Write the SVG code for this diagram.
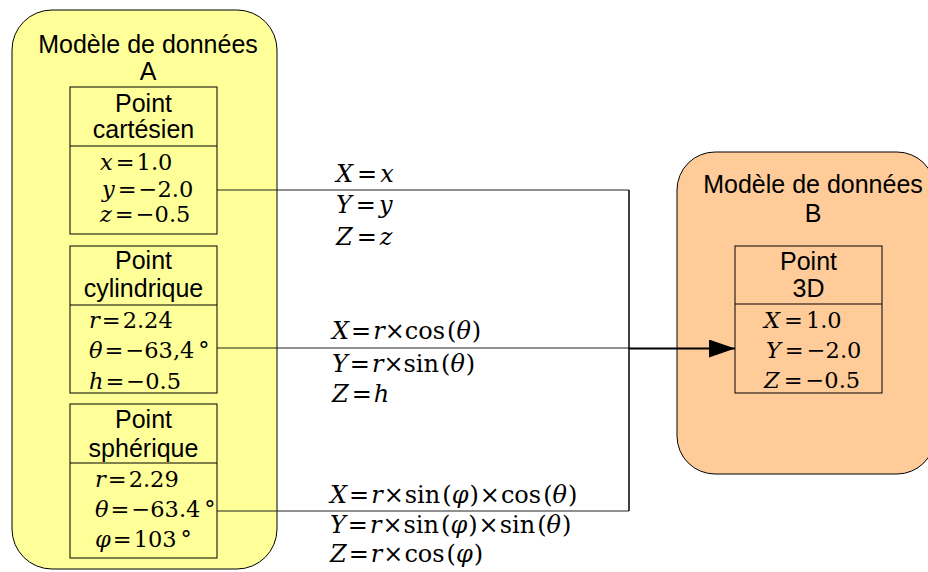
<svg xmlns="http://www.w3.org/2000/svg" width="928" height="572" viewBox="0 0 928 572">
<defs>
<style>
.ca{fill:#ffff99;stroke:#000;stroke-width:1}
.cb{fill:#ffcc99;stroke:#000;stroke-width:1}
.box{stroke:#000;stroke-width:1}
.t{font-family:"Liberation Sans",Arial,sans-serif;font-size:25px;fill:#000;text-anchor:middle}
.m{font-family:"DejaVu Serif",serif;font-size:22.5px;fill:#000}
.f{font-family:"DejaVu Serif",serif;font-size:24px;fill:#000}
.i{font-style:italic}
.ln{fill:none;stroke:#222;stroke-width:1}
</style>
<marker id="arr" markerWidth="26" markerHeight="18" refX="26" refY="9" orient="auto" markerUnits="userSpaceOnUse">
<path d="M0,0 L26,9 L0,18 Z" fill="#000"/>
</marker>
</defs>
<g id="modele-a">
<rect class="ca" x="12" y="10" width="265" height="559" rx="40" ry="40"/>
<text class="t" x="148" y="53">Modèle de données</text>
<text class="t" x="148" y="80">A</text>
</g>
<g id="point-cartesien">
<rect class="box" fill="#ffff99" x="70" y="87" width="147" height="147"/>
<line class="box" x1="70" y1="146" x2="217" y2="146"/>
<text class="t" x="143.5" y="112">Point</text>
<text class="t" x="143.5" y="138">cartésien</text>
<text class="m" x="100" y="170"><tspan class="i">x</tspan><tspan dx="3">=</tspan><tspan dx="2">1.0</tspan></text>
<text class="m" x="102" y="197"><tspan class="i">y</tspan><tspan dx="3">=</tspan><tspan dx="2">−2.0</tspan></text>
<text class="m" x="100" y="222"><tspan class="i">z</tspan><tspan dx="3">=</tspan><tspan dx="2">−0.5</tspan></text>
</g>
<g id="point-cylindrique">
<rect class="box" fill="#ffff99" x="70" y="246" width="147" height="147"/>
<line class="box" x1="70" y1="305" x2="217" y2="305"/>
<text class="t" x="143.5" y="269">Point</text>
<text class="t" x="143.5" y="297">cylindrique</text>
<text class="m" x="89" y="328"><tspan class="i">r</tspan><tspan dx="2">=</tspan><tspan dx="2">2.24</tspan></text>
<text class="m" x="89" y="358"><tspan class="i">θ</tspan><tspan dx="2">=</tspan><tspan dx="2">−63,4</tspan><tspan dx="4">°</tspan></text>
<text class="m" x="89" y="389"><tspan class="i">h</tspan><tspan dx="2">=</tspan><tspan dx="2">−0.5</tspan></text>
</g>
<g id="point-spherique">
<rect class="box" fill="#ffff99" x="70" y="404" width="147" height="154"/>
<line class="box" x1="70" y1="463" x2="217" y2="463"/>
<text class="t" x="143.5" y="428">Point</text>
<text class="t" x="143.5" y="457">sphérique</text>
<text class="m" x="95" y="487"><tspan class="i">r</tspan><tspan dx="2">=</tspan><tspan dx="2">2.29</tspan></text>
<text class="m" x="95" y="517"><tspan class="i">θ</tspan><tspan dx="2">=</tspan><tspan dx="2">−63.4</tspan><tspan dx="4">°</tspan></text>
<text class="m" x="95" y="547"><tspan class="i">φ</tspan><tspan dx="2">=</tspan><tspan dx="2">103</tspan><tspan dx="4">°</tspan></text>
</g>
<g id="modele-b">
<rect class="cb" x="677" y="152" width="258" height="322" rx="38" ry="38"/>
<text class="t" x="813" y="193">Modèle de données</text>
<text class="t" x="813" y="222">B</text>
</g>
<g id="point-3d">
<rect class="box" fill="#ffcc99" x="735" y="246" width="147" height="147"/>
<line class="box" x1="735" y1="304" x2="882" y2="304"/>
<text class="t" x="808.5" y="270">Point</text>
<text class="t" x="808.5" y="297">3D</text>
<text class="m" x="764" y="328"><tspan class="i">X</tspan><tspan dx="4">=</tspan><tspan dx="3">1.0</tspan></text>
<text class="m" x="766" y="358"><tspan class="i">Y</tspan><tspan dx="4">=</tspan><tspan dx="3">−2.0</tspan></text>
<text class="m" x="764" y="388"><tspan class="i">Z</tspan><tspan dx="4">=</tspan><tspan dx="3">−0.5</tspan></text>
</g>
<g id="connectors">
<path class="ln" d="M217,190 H629"/>
<path class="ln" d="M217,348 H629"/>
<path class="ln" d="M217,511 H629"/>
<path d="M629,190 V511" fill="none" stroke="#000" stroke-width="1.5"/>
<path d="M629,348.5 H735" fill="none" stroke="#000" stroke-width="2" marker-end="url(#arr)"/>
</g>
<g id="formules">
<text class="f" x="336" y="182"><tspan class="i">X</tspan><tspan dx="4">=</tspan><tspan class="i" dx="3">x</tspan></text>
<text class="f" x="336" y="213"><tspan class="i">Y</tspan><tspan dx="4">=</tspan><tspan class="i" dx="3">y</tspan></text>
<text class="f" x="336" y="245"><tspan class="i">Z</tspan><tspan dx="4">=</tspan><tspan class="i" dx="3">z</tspan></text>
<text class="f" x="332" y="339"><tspan class="i">X</tspan><tspan dx="2">=</tspan><tspan class="i" dx="2">r</tspan>×cos<tspan dx="2">(</tspan><tspan class="i">θ</tspan><tspan dx="1">)</tspan></text>
<text class="f" x="332" y="372"><tspan class="i">Y</tspan><tspan dx="2">=</tspan><tspan class="i" dx="2">r</tspan>×sin<tspan dx="2">(</tspan><tspan class="i">θ</tspan><tspan dx="1">)</tspan></text>
<text class="f" x="332" y="402"><tspan class="i">Z</tspan><tspan dx="3">=</tspan><tspan class="i" dx="2">h</tspan></text>
<text class="f" x="330" y="503"><tspan class="i">X</tspan><tspan dx="2">=</tspan><tspan class="i" dx="2">r</tspan><tspan dx="1">×</tspan><tspan dx="1">sin</tspan><tspan dx="2">(</tspan><tspan class="i">φ</tspan><tspan dx="1">)</tspan><tspan dx="1">×</tspan><tspan dx="1">cos</tspan><tspan dx="2">(</tspan><tspan class="i">θ</tspan><tspan dx="1">)</tspan></text>
<text class="f" x="330" y="533"><tspan class="i">Y</tspan><tspan dx="2">=</tspan><tspan class="i" dx="2">r</tspan><tspan dx="1">×</tspan><tspan dx="1">sin</tspan><tspan dx="2">(</tspan><tspan class="i">φ</tspan><tspan dx="1">)</tspan><tspan dx="1">×</tspan><tspan dx="1">sin</tspan><tspan dx="2">(</tspan><tspan class="i">θ</tspan><tspan dx="1">)</tspan></text>
<text class="f" x="330" y="562"><tspan class="i">Z</tspan><tspan dx="2">=</tspan><tspan class="i" dx="2">r</tspan><tspan dx="1">×</tspan><tspan dx="1">cos</tspan><tspan dx="2">(</tspan><tspan class="i">φ</tspan><tspan dx="1">)</tspan></text>
</g>
</svg>
